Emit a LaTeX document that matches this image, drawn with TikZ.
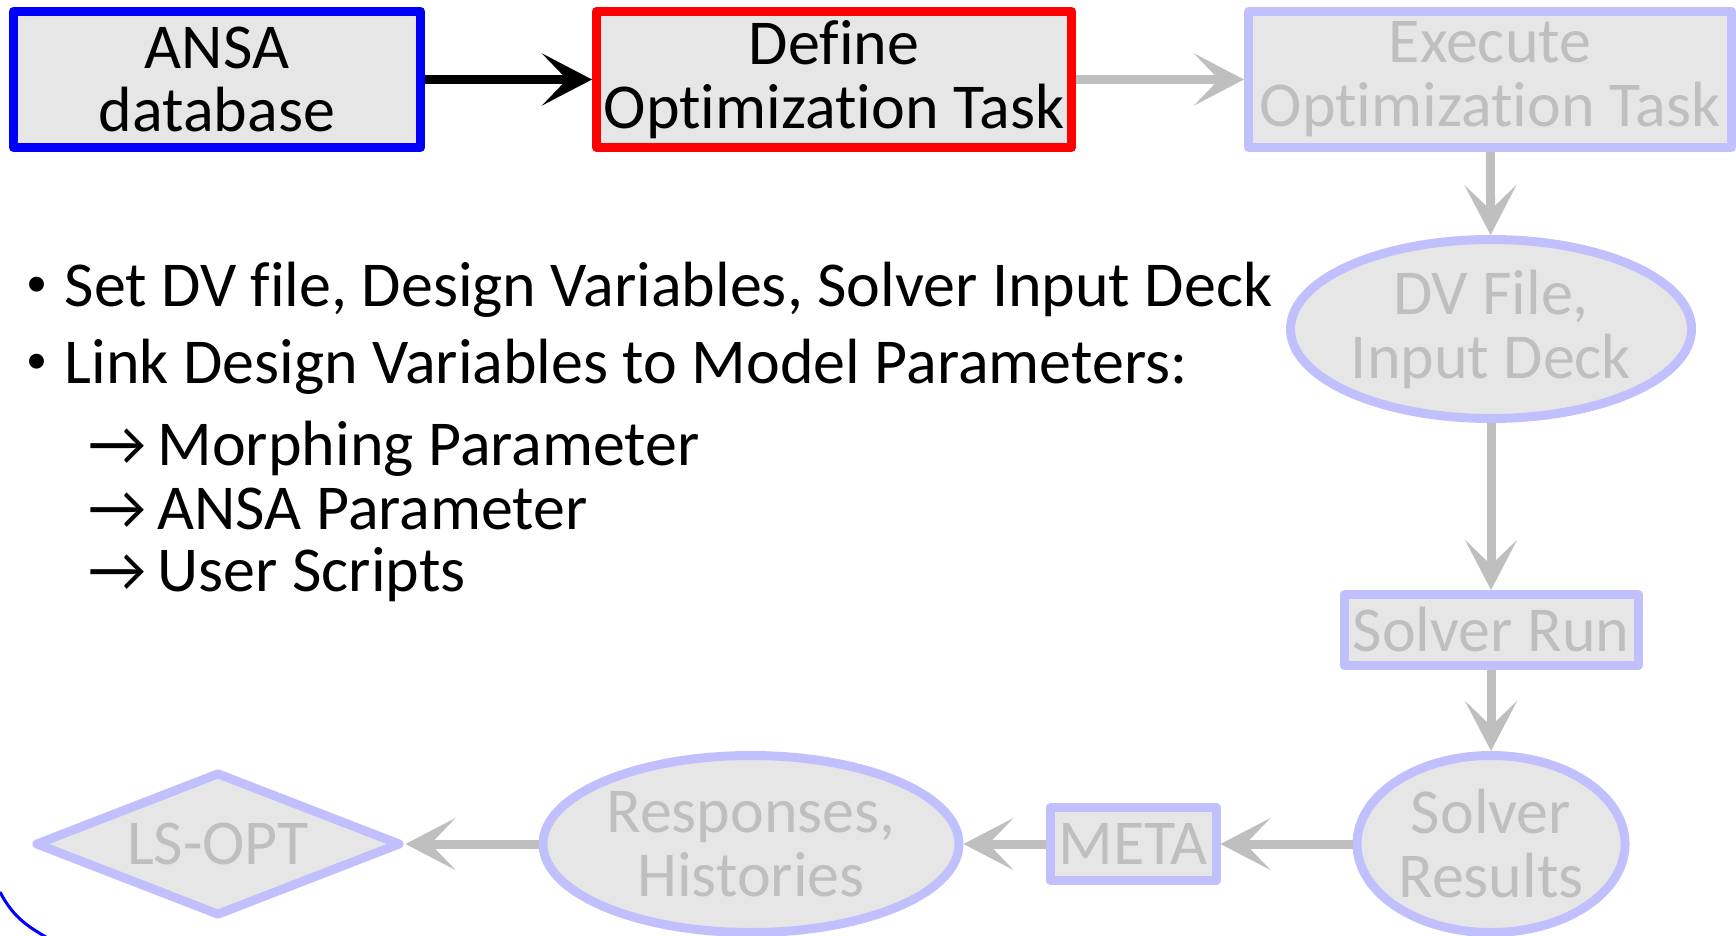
\documentclass[tikz,border=0pt]{standalone}
\usepackage{fontspec}
\setmainfont{Carlito}[Ligatures=CommonOff]
\usepackage{xcolor}
\definecolor{pale-blue}{RGB}{192,192,255}
\definecolor{box-gray}{RGB}{230,230,230}
\definecolor{text-gray}{RGB}{191,191,191}
\usepackage{tikz}
\usetikzlibrary{shapes.geometric,arrows.meta}
\newcommand*\listdot{\llap{\raisebox{3pt}{\fontsize{12}{12}\selectfont •}\hspace{0.17cm}}}
\tikzset{
	stagebox/.style={draw,line width=0.09cm,line join=round,fill=box-gray,
		inner sep=0pt,align=center},
	donebox/.style={stagebox,draw=pale-blue,text=text-gray},
	doneoval/.style={donebox,ellipse},
	flow/.style={line width=0.09cm,text-gray,
		-{Stealth[length=0.5cm,width=0.52cm,inset=0.25cm]}},
	listline/.style={anchor=base west,inner sep=0pt}
}

\begin{document}
\begin{tikzpicture}[font=\fontsize{18.2}{18.2}\selectfont]
	\useasboundingbox (0,0) rectangle (17.36,9.35);
	
	% top row
	\node[stagebox,draw=blue,minimum width=4.07cm,minimum height=1.36cm]
		(ansa) at (2.17,8.555) {ANSA\\database};
	\node[stagebox,draw=red,minimum width=4.75cm,minimum height=1.36cm]
		(define) at (8.34,8.555) {Define\\Optimization Task};
	\node[donebox,minimum width=4.83cm,minimum height=1.36cm]
		(execute) at (14.90,8.555) {Execute\\Optimization Task};
	
	% right column and bottom row
	\node[doneoval,minimum width=4.01cm,minimum height=1.79cm]
		(dvfile) at (14.91,6.06) {DV File,\\Input Deck};
	\node[donebox,minimum width=2.94cm,minimum height=0.71cm]
		(solverrun) at (14.91,3.05) {Solver Run};
	\node[doneoval,minimum width=2.68cm,minimum height=1.77cm]
		(results) at (14.91,0.91) {Solver\\Results};
	\node[donebox,minimum width=1.66cm,minimum height=0.73cm]
		(meta) at (11.33,0.91) {META};
	\node[doneoval,minimum width=4.16cm,minimum height=1.77cm]
		(responses) at (7.51,0.91) {Responses,\\Histories};
	\node[donebox,diamond,shape aspect=2.5,minimum width=3.66cm,minimum height=1.44cm]
		(lsopt) at (2.18,0.91) {LS-OPT};
	
	\draw[flow,black] (ansa) -- (define);
	\draw[flow] (define) -- (execute);
	\draw[flow] (execute) -- (dvfile);
	\draw[flow] (dvfile) -- (solverrun);
	\draw[flow] (solverrun) -- (results);
	\draw[flow] (results) -- (meta);
	\draw[flow] (meta) -- (responses);
	\draw[flow] (responses) -- (lsopt);
	
	% task list
	\node[listline] (setdv) at (0.64,6.28)
		{\listdot Set DV file, Design Variables, Solver Input Deck};
	\node[listline] (linkdv) at (0.64,5.51)
		{\listdot Link Design Variables to Model Parameters:};
	\node[listline] (morph) at (0.88,4.70) {→\hspace{0.11cm}Morphing Parameter};
	\node[listline] (ansapar) at (0.88,4.06) {→\hspace{0.11cm}ANSA Parameter};
	\node[listline] (scripts) at (0.88,3.44) {→\hspace{0.11cm}User Scripts};
	
	\draw[blue,line width=0.03cm] (0,0.43) .. controls (0.12,0.2) and (0.25,0.1) .. (0.46,-0.02);
\end{tikzpicture}
\end{document}
